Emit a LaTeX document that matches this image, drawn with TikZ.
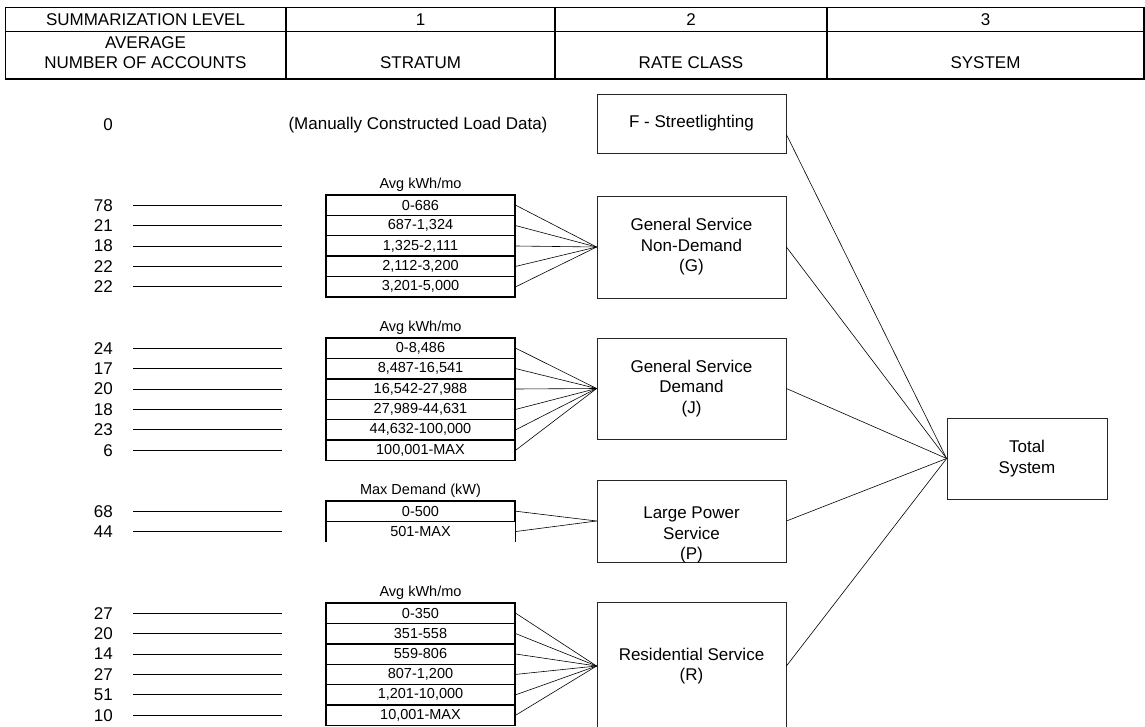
\documentclass[tikz,border=0pt]{standalone}
\usepackage{fontspec}
\setmainfont{Liberation Sans}
\usepackage{tikz}
\usetikzlibrary{calc}

\tikzstyle{hdrline}=[line width=1.3pt]
\tikzstyle{hdrtext}=[font=\fontsize{17}{20}\selectfont, align=center, inner sep=0pt]
\tikzstyle{ratebox}=[draw=black!85, line width=.8pt, minimum width=189pt, inner sep=0pt, font=\fontsize{17}{20.4}\selectfont, align=center]
\tikzstyle{boxtext}=[font=\fontsize{17}{20.4}\selectfont, align=center, inner sep=0pt]
\tikzstyle{cell}=[draw, line width=1.4pt, minimum width=189pt, minimum height=20.4pt, inner sep=0pt, font=\fontsize{14.5}{16}\selectfont]
\tikzstyle{opencell}=[minimum width=189pt, minimum height=20.4pt, inner sep=0pt, font=\fontsize{14.5}{16}\selectfont]
\tikzstyle{cellhead}=[font=\fontsize{14.5}{16}\selectfont, inner sep=0pt]
\tikzstyle{acctnum}=[font=\fontsize{17}{20}\selectfont, anchor=east, inner sep=0pt]
\tikzstyle{leader}=[line width=.8pt]
\tikzstyle{fan}=[line width=.6pt]

% one stratum: accounts, leader, range cell, line to its rate class
\newcommand{\stratum}[6][cell]{
	\node[acctnum] (a#2) at (113,#3) {#4};
	\draw[leader] ($(a#2.east)+(20,0)$) -- ++(149,0);
	\node[#1] (#2) at (420.5,#3) {#5};
	\draw[fan] (#2.east) -- (#6.west);
}

\begin{document}
\begin{tikzpicture}[x=1pt, y=-1pt]
	\useasboundingbox (0,0) rectangle (1145,727);
	\clip (0,0) rectangle (1145,727);

	% header table
	\draw[hdrline] (5.5,7.5) rectangle (1144,79);
	\draw[hdrline] (5.5,31.5) -- (1144,31.5);
	\foreach \x in {286,555,827} \draw[hdrline] (\x,7.5) -- (\x,79);
	\node[hdrtext] (h0) at (145.5,19.5) {SUMMARIZATION LEVEL};
	\node[hdrtext] (h1) at (420.5,19.5) {1};
	\node[hdrtext] (h2) at (691,19.5) {2};
	\node[hdrtext] (h3) at (985.5,19.5) {3};
	\node[hdrtext] (c0) at (145.5,53) {AVERAGE\\NUMBER OF ACCOUNTS};
	\node[hdrtext] (c1) at (420.5,63) {STRATUM};
	\node[hdrtext] (c2) at (691,63) {RATE CLASS};
	\node[hdrtext] (c3) at (985.5,63) {SYSTEM};

	% rate classes and system
	\node[ratebox, minimum height=59pt] (f) at (691.5,123.5) {F - Streetlighting};
	\node[ratebox, minimum height=102pt] (g) at (691.5,247) {General Service\\Non-Demand\\(G)};
	\node[ratebox, minimum height=101pt] (j) at (691.5,388.5) {General Service\\Demand\\(J)};
	\node[ratebox, minimum height=82pt] (lp) at (691.5,521) {};
	\node[boxtext] (lptext) at ([yshift=-14pt]lp.center) {Large Power\\Service\\(P)};
	\node[ratebox, minimum height=128pt] (r) at (691.5,666) {Residential Service\\(R)};
	\node[ratebox, minimum width=160pt, minimum height=81pt] (tot) at (1027,458.5) {Total\\System};

	\draw[fan] ([yshift=-11pt]f.east) -- (tot.west);
	\foreach \n in {g,j,lp,r} \draw[fan] (\n.east) -- (tot.west);

	% streetlighting
	\node[acctnum] (a0) at (113,125) {0};
	\node[boxtext] (manual) at (418,125) {(Manually Constructed Load Data)};

	% G strata
	\node[cellhead] at (420.5,185) {Avg kWh/mo};
	\stratum{g1}{205.2}{78}{0-686}{g}
	\stratum{g2}{225.6}{21}{687-1,324}{g}
	\stratum{g3}{246.0}{18}{1,325-2,111}{g}
	\stratum{g4}{266.4}{22}{2,112-3,200}{g}
	\stratum{g5}{286.8}{22}{3,201-5,000}{g}

	% J strata
	\node[cellhead] at (420.5,328) {Avg kWh/mo};
	\stratum{j1}{348.2}{24}{0-8,486}{j}
	\stratum{j2}{368.6}{17}{8,487-16,541}{j}
	\stratum{j3}{389.0}{20}{16,542-27,988}{j}
	\stratum{j4}{409.4}{18}{27,989-44,631}{j}
	\stratum{j5}{429.8}{23}{44,632-100,000}{j}
	\stratum{j6}{450.2}{6}{100,001-MAX}{j}

	% P strata
	\node[cellhead] at (420.5,491) {Max Demand (kW)};
	\stratum{p1}{511.2}{68}{0-500}{lp}
	\stratum[opencell]{p2}{531.6}{44}{501-MAX}{lp}
	\draw[line width=1.4pt] (p2.north west) -- (p2.south west) (p2.north east) -- (p2.south east);

	% R strata
	\node[cellhead] at (420.5,593) {Avg kWh/mo};
	\stratum{r1}{613.2}{27}{0-350}{r}
	\stratum{r2}{633.6}{20}{351-558}{r}
	\stratum{r3}{654.0}{14}{559-806}{r}
	\stratum{r4}{674.4}{27}{807-1,200}{r}
	\stratum{r5}{694.8}{51}{1,201-10,000}{r}
	\stratum{r6}{715.2}{10}{10,001-MAX}{r}
\end{tikzpicture}
\end{document}
